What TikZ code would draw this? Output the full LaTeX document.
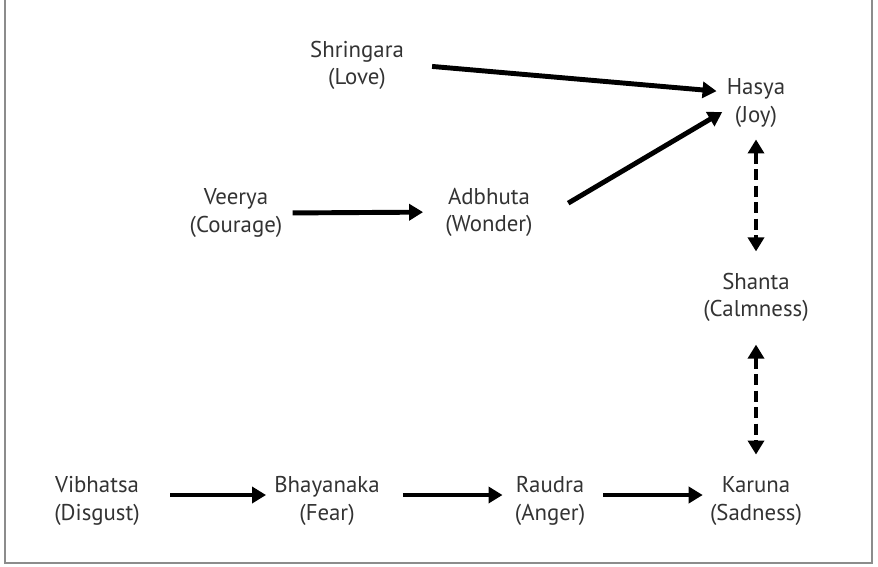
\documentclass[tikz,border=0pt]{standalone}
\usepackage{fontspec}
\setmainfont{PT Sans}
\usetikzlibrary{arrows.meta,positioning}

\begin{document}
\begin{tikzpicture}[
    x=0.02cm,
    y=-0.02cm,
    font=\fontsize{13}{15.5}\selectfont,
    >={Triangle[length=2.8mm,width=3.2mm]},
    rasa/.style={
        align=center,
        inner sep=0pt,
        text=black!80
    },
    flow/.style={
        ->,
        line width=2.8pt
    },
    calm/.style={
        <->,
        line width=2.8pt,
        dash pattern=on 2.2mm off 1.1mm
    },
    frame/.style={
        draw=black!45,
        line width=1.1pt
    }
]
\useasboundingbox (0,0) rectangle (878,566);

% Open frame round the chart
\draw[frame] (5,0) -- (5,563) -- (872,563) -- (872,0);

% Top: love and wonder lead to joy
\node[rasa] (shr) at (357,65)  {Shringara\\(Love)};
\node[rasa] (has) at (756,103) {Hasya\\(Joy)};
\node[rasa] (vee) at (236,213) {Veerya\\(Courage)};
\node[rasa] (adb) at (489,212) {Adbhuta\\(Wonder)};

\draw[flow, shorten <=5.6mm, shorten >=2mm]
    ([yshift=0.2mm]shr.east) -- ([yshift=2.2mm]has.west);
\draw[flow, shorten <=8.2mm, shorten >=1mm]
    ([yshift=-2.4mm]adb.east) -- ([yshift=-1.3mm]has.west);
\draw[flow, shorten <=2mm, shorten >=4.4mm]
    (vee.east) -- (adb.west);

% Bottom: the chain from disgust to sadness
\node[rasa] (vib) at (97,501)  {Vibhatsa\\(Disgust)};
\node[rasa] (bha) at (327,501) {Bhayanaka\\(Fear)};
\node[rasa] (rau) at (550,501) {Raudra\\(Anger)};
\node[rasa] (kar) at (756,501) {Karuna\\(Sadness)};

\draw[flow, shorten <=6mm, shorten >=1.6mm]
    ([yshift=1.2mm]vib.east) -- ([yshift=1.2mm]bha.west);
\draw[flow, shorten <=4.6mm, shorten >=2.4mm]
    ([yshift=1.2mm]bha.east) -- ([yshift=1.2mm]rau.west);
\draw[flow, shorten <=3.6mm, shorten >=1.4mm]
    ([yshift=1.2mm]rau.east) -- ([yshift=1.2mm]kar.west);

% Right column: calmness between joy and sadness
\node[rasa] (sha) at (756,297) {Shanta\\(Calmness)};

\draw[calm, shorten <=2.4mm, shorten >=4.2mm] (has.south) -- (sha.north);
\draw[calm, shorten <=4.6mm, shorten >=4.4mm] (sha.south) -- (kar.north);

\end{tikzpicture}
\end{document}
